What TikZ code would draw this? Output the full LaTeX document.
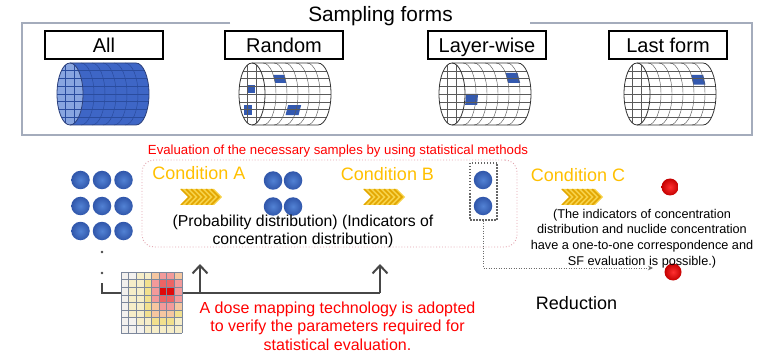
\documentclass[tikz,border=0pt]{standalone}
\usepackage{fontspec}
\setmainfont{Liberation Sans}
\usetikzlibrary{arrows.meta}

\definecolor{framegray}{HTML}{A4ACBC}
\definecolor{gold}{HTML}{FFC000}
\definecolor{chevlight}{HTML}{F7D24A}
\definecolor{chevdark}{HTML}{E2A600}
\definecolor{dotin}{HTML}{5282D4}
\definecolor{dotout}{HTML}{3056AA}
\definecolor{redin}{HTML}{FF3030}
\definecolor{redout}{HTML}{C40000}
\definecolor{pinkline}{HTML}{E3A3AE}
\definecolor{flowgray}{HTML}{474747}
\definecolor{cylline}{HTML}{5A5A5A}
\definecolor{patchblue}{HTML}{3359B0}
\definecolor{allbody}{HTML}{3E66C6}
\definecolor{allface}{HTML}{88A5E0}
\definecolor{allgrid}{HTML}{2A4C9E}
\definecolor{alledge}{HTML}{2B3F7A}
\definecolor{heat0}{HTML}{F3F1EE}
\definecolor{heat1}{HTML}{F6EDC8}
\definecolor{heat2}{HTML}{F2E08E}
\definecolor{heat3}{HTML}{F5C6A0}
\definecolor{heat4}{HTML}{F29A9A}
\definecolor{heat5}{HTML}{EC6464}
\definecolor{heat6}{HTML}{E00A0A}
\definecolor{heatgrid}{HTML}{7D889C}

% horizontal drum: end face at the origin, body of length 66
\newcommand\cylfigure[5]{%
  \begin{scope}[shift={(#1,#2)},#3]
    \path[cyl body] (0,-31) -- (66,-31) arc(-90:90:13 and 31) -- (0,31) arc(90:270:13 and 31) -- cycle;
    #4
    \foreach \k in {1,...,5} {\path[cyl grid] (11*\k,-31) arc(-90:90:13 and 31);}
    \foreach \s in {-0.75,-0.5,-0.25,0,0.25,0.5,0.75}
      {\path[cyl grid] ({13*sqrt(1-\s*\s)},{31*\s}) -- ({66+13*sqrt(1-\s*\s)},{31*\s});}
    \path[cyl face] (0,0) ellipse (13 and 31);
    \begin{scope}
      \clip (0,0) ellipse (13 and 31);
      #5
      \foreach \s in {-0.75,-0.5,-0.25,0,0.25,0.5,0.75}
        {\path[cyl grid] (-13,{31*\s}) -- (13,{31*\s});}
      \path[cyl grid] (-4.5,-31) -- (-4.5,31);
      \path[cyl grid] (4.5,-31) -- (4.5,31);
    \end{scope}
    \path[cyl edge] (0,-31) -- (66,-31) arc(-90:90:13 and 31) -- (0,31);
    \path[cyl edge] (0,0) ellipse (13 and 31);
  \end{scope}}

% filled cell on the drum surface: length u1..u2, height fraction s1..s2
\newcommand\cylpatch[4]{%
  \fill[patchblue] ({#1+13*sqrt(1-(#3)*(#3))},{31*(#3)}) -- ({#2+13*sqrt(1-(#3)*(#3))},{31*(#3)})
    -- ({#2+13*sqrt(1-(#4)*(#4))},{31*(#4)}) -- ({#1+13*sqrt(1-(#4)*(#4))},{31*(#4)}) -- cycle;}

\tikzset{
  plaincyl/.style={
    cyl body/.style={fill=white},
    cyl face/.style={fill=white},
    cyl grid/.style={draw=cylline,line width=0.45pt},
    cyl edge/.style={draw=black!80,line width=0.8pt}},
  bluecyl/.style={
    cyl body/.style={fill=allbody},
    cyl face/.style={fill=allface},
    cyl grid/.style={draw=allgrid,line width=0.5pt},
    cyl edge/.style={draw=alledge,line width=0.8pt}},
  formlabel/.style={draw,line width=1.2pt,fill=white,minimum width=118pt,minimum height=28pt,
    inner sep=0pt,text height=14.5pt,text depth=0pt,font=\fontsize{20}{24}\selectfont},
  conditiontext/.style={anchor=base,text=gold,font=\fontsize{18}{22}\selectfont},
  bluedot/.style={circle,minimum size=18.5pt,inner sep=0pt,inner color=dotin,outer color=dotout},
  reddot/.style={circle,minimum size=17pt,inner sep=0pt,inner color=redin,outer color=redout},
  flowline/.style={draw=flowgray,line width=2pt},
  flowarrow/.style={flowline,-{Straight Barb[length=8pt,width=15pt]}},
  chevron/.pic={
    \begin{scope}
      \clip (0,-8) -- (34,-8) -- (42,0) -- (34,8) -- (0,8) -- (8,0) -- cycle;
      \fill[chevlight] (-1,-9) rectangle (43,9);
      \foreach \i in {0,...,9}
        {\draw[chevdark,line width=1.6pt] (\i*5-4,-8) -- (\i*5+4,0) -- (\i*5-4,8);}
    \end{scope}}
}

\begin{document}
\begin{tikzpicture}[x=1pt,y=-1pt]
\useasboundingbox (0,0) rectangle (759,355);
\fill[white] (0,0) rectangle (759,355);

% ---- sampling forms panel ----
\draw[framegray,line width=1.4pt] (230,23) -- (22,23) -- (22,135) -- (752,135) -- (752,23) -- (530,23);
\node[anchor=base,font=\fontsize{20.8}{24}\selectfont] (title) at (380.5,22) {Sampling forms};

\node[formlabel] (lAll) at (104,45) {All};
\node[formlabel] (lRandom) at (284,45) {Random};
\node[formlabel] (lLayer) at (487,45) {Layer-wise};
\node[formlabel] (lLast) at (668,45) {Last form};

\cylfigure{70}{94}{bluecyl}{}{}
\cylfigure{252}{94}{plaincyl}
  {\cylpatch{11}{22}{-0.62}{-0.36}\cylpatch{24}{37}{0.36}{0.68}}
  {\fill[patchblue] (-4,-9) rectangle (3,-1); \fill[patchblue] (-8,11) rectangle (0,21);}
\cylfigure{452}{94}{plaincyl}
  {\cylpatch{1}{13}{0}{0.35}\cylpatch{44}{56}{-0.68}{-0.36}}{}
\cylfigure{637}{94}{plaincyl}
  {\cylpatch{44}{56}{-0.62}{-0.3}}{}

% ---- statistical evaluation ----
\node[anchor=base,text=red,font=\fontsize{13.2}{15}\selectfont] (evaltitle) at (338,155)
  {Evaluation of the necessary samples by using statistical methods};
\node[draw=pinkline,line width=0.9pt,dotted,rounded corners=12pt,minimum width=375pt,
  minimum height=87pt] (evalbox) at (329.5,203.5) {};

\foreach \r/\y in {1/180,2/206,3/231}
  \foreach \c/\x in {1/80.5,2/102,3/123.5}
    \node[bluedot] (all\r\c) at (\x,\y) {};

\node[conditiontext] (condA) at (199,180) {Condition A};
\pic (chevA) at (180,197) {chevron};

\node[bluedot] (half11) at (273,180.5) {};
\node[bluedot] (half12) at (293,180.5) {};
\node[bluedot] (half21) at (273,206.5) {};
\node[bluedot] (half22) at (293,206.5) {};

\node[conditiontext] (condB) at (387.5,181) {Condition B};
\pic (chevB) at (363,197) {chevron};

% the base anchor of a multi-line node sits on its last line
\node[anchor=base,align=center,font=\fontsize{15.8}{18}\selectfont] (abtext) at (303,244)
  {(Probability distribution) (Indicators of\\concentration distribution)};

\node[draw=gray!80!black,line width=1.2pt,dash pattern=on 1.5pt off 1.5pt,minimum width=27pt,
  minimum height=57pt] (pairbox) at (483.5,191.5) {};
\node[bluedot] (pair1) at (483,180) {};
\node[bluedot] (pair2) at (483,206) {};

\node[conditiontext] (condC) at (578,182) {Condition C};
\pic (chevC) at (561,197) {chevron};

\node[reddot] (redtop) at (670,187) {};
\node[reddot] (redlow) at (673,272) {};

\node[anchor=base,align=center,font=\fontsize{12.7}{15.6}\selectfont] (ctext) at (642,265)
  {(The indicators of concentration\\distribution and nuclide concentration\\have a one-to-one correspondence and\\SF evaluation is possible.)};

\coordinate (redarrow) at (653,268);
\draw[gray!85!black,line width=0.9pt,dash pattern=on 1pt off 1.5pt,-{Stealth[length=5pt,width=4.5pt]}]
  (pairbox.south) |- (redarrow);

\node[anchor=base,font=\fontsize{18}{22}\selectfont] (reduction) at (576.5,309) {Reduction};

% ---- dose mapping ----
\fill[flowgray] (102,252) circle (1.3);
\fill[flowgray] (102,273) circle (1.3);
\coordinate (lstart) at (102,283);
\coordinate (lcorner) at (102,293);
\coordinate (armA) at (200,293);
\coordinate (armB) at (380,293);
\coordinate (tipA) at (200,264);
\coordinate (tipB) at (380,264);
\draw[flowline] (lstart) -- (lcorner) -- (armB);
\draw[flowarrow] (armA) -- (tipA);
\draw[flowarrow] (armB) -- (tipB);

\coordinate (heatmap) at (151.4,302.4);
\foreach \row [count=\r from 0] in {{0,0,1,1,3,4,4,3},{0,1,1,2,4,5,5,4},{0,1,1,2,4,6,6,4},
    {0,1,1,2,4,5,5,4},{0,1,1,2,3,4,4,3},{0,1,1,2,3,3,3,2},{0,0,1,1,2,2,2,1},{0,0,0,1,1,1,1,1}}
  \foreach \v [count=\c from 0] in \row
    {\fill[heat\v] ({121+7.6*\c},{272+7.6*\r}) rectangle ++(7.6,7.6);}
\foreach \i in {0,...,8} {
  \draw[heatgrid,line width=0.6pt] ({121+7.6*\i},272) -- ({121+7.6*\i},332.8);
  \draw[heatgrid,line width=0.6pt] (121,{272+7.6*\i}) -- (181.8,{272+7.6*\i});
}

\node[anchor=base,align=center,text=red,font=\fontsize{16}{18.5}\selectfont] (dosetext) at (337.5,350)
  {A dose mapping technology is adopted\\to verify the parameters required for\\statistical evaluation.};
\end{tikzpicture}
\end{document}
